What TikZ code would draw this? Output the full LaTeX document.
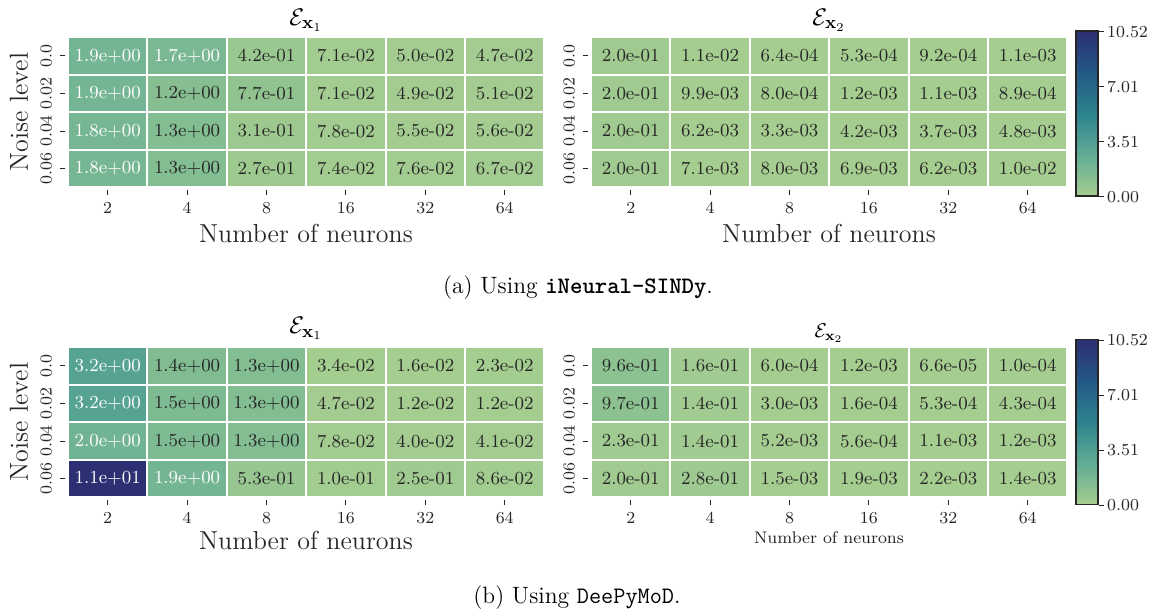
\documentclass[tikz,border=0pt]{standalone}
\usepackage{amsmath}
\usepackage{amsfonts}
\usepackage{tikz}
\usetikzlibrary{positioning}

\definecolor{crest0}{RGB}{165,205,144}
\definecolor{crest1}{RGB}{97,172,148}
\definecolor{crest2}{RGB}{44,131,142}
\definecolor{crest3}{RGB}{36,88,134}
\definecolor{crest4}{RGB}{44,47,114}
\definecolor{axisgray}{RGB}{38,38,38}

\pgfdeclareverticalshading{crestbar}{100bp}{color(0bp)=(crest0); color(25bp)=(crest0); color(37.5bp)=(crest1); color(50bp)=(crest2); color(62.5bp)=(crest3); color(75bp)=(crest4); color(100bp)=(crest4)}

\tikzset{
  heatcell/.style={draw=white, line width=1pt, inner sep=0pt, minimum width=39.7pt, minimum height=18.8pt, font=\fontsize{9.2}{11}\selectfont},
  tickmark/.style={draw=axisgray, line width=0.5pt},
  ticklabel/.style={inner sep=0pt, text=axisgray, font=\fontsize{8.4}{10}\selectfont},
  axislabel/.style={inner sep=0pt, text=axisgray, font=\fontsize{13}{15}\selectfont},
  plottitle/.style={inner sep=0pt, font=\fontsize{13}{15}\selectfont},
  colorbar/.style={shade, shading=crestbar, draw=axisgray, line width=0.7pt, inner sep=0pt, minimum width=11pt, minimum height=82.5pt},
  caption/.style={inner sep=0pt, font=\fontsize{11.8}{14}\selectfont}
}

% 1.9e+00 -> \heatv
\def\heatvalue#1e#2#3#4\relax{%
  \if#2+\pgfmathsetmacro\heatv{#1*10^#4}\else\pgfmathsetmacro\heatv{#1/10^min(#4,4)}\fi}

% colours of one cell, crest map from 0 to 10.52
\newcommand{\setheat}[1]{%
  \expandafter\heatvalue#1\relax
  \pgfmathsetmacro\heatt{4*min(\heatv/10.52,1)}%
  \pgfmathtruncatemacro\heati{min(floor(\heatt),3)}%
  \pgfmathtruncatemacro\heatj{\heati+1}%
  \pgfmathsetmacro\heatp{100*(\heatt-\heati)}%
  \colorlet{heatfill}{crest\heatj!\heatp!crest\heati}%
  \pgfmathtruncatemacro\heatw{\heatv>1.6}%
  \ifnum\heatw=1 \colorlet{heattext}{white}\else\colorlet{heattext}{axisgray}\fi}

% #1 name, #2 left, #3 top, #4 rows
\newcommand{\heatmap}[4]{%
  \foreach \row [count=\r from 0] in {#4} {%
    \foreach \val [count=\c from 0] in \row {%
      \setheat{\val}%
      \node[heatcell, fill=heatfill, text=heattext] (#1-\r-\c) at (#2+39.7+\c*79.4, #3+18.8+\r*37.6) {\val};
    }%
  }%
  \foreach \c/\n in {0/2,1/4,2/8,3/16,4/32,5/64} {%
    \draw[tickmark] ([yshift=-1pt]#1-3-\c.south) -- ++(0,5);
    \node[ticklabel, below=6.8pt of #1-3-\c.south] (#1-xt-\c) {\n};
  }%
  \foreach \r/\n in {0/0.0,1/0.02,2/0.04,3/0.06} {%
    \draw[tickmark] ([xshift=-1pt]#1-\r-0.west) -- ++(-5,0);
    \node[ticklabel, rotate=90, anchor=south] (#1-yt-\r) at ([xshift=-7.3pt]#1-\r-0.west) {\n};
  }%
}

\begin{document}
\begin{tikzpicture}[x=0.5pt, y=-0.5pt]
        \useasboundingbox (0,0) rectangle (1154,615);
        %--------------------------- (a)
        \heatmap{tl}{68}{37}{%
{1.9e+00,1.7e+00,4.2e-01,7.1e-02,5.0e-02,4.7e-02},%
{1.9e+00,1.2e+00,7.7e-01,7.1e-02,4.9e-02,5.1e-02},%
{1.8e+00,1.3e+00,3.1e-01,7.8e-02,5.5e-02,5.6e-02},%
{1.8e+00,1.3e+00,2.7e-01,7.4e-02,7.6e-02,6.7e-02}}
        \heatmap{tr}{591}{37}{%
{2.0e-01,1.1e-02,6.4e-04,5.3e-04,9.2e-04,1.1e-03},%
{2.0e-01,9.9e-03,8.0e-04,1.2e-03,1.1e-03,8.9e-04},%
{2.0e-01,6.2e-03,3.3e-03,4.2e-03,3.7e-03,4.8e-03},%
{2.0e-01,7.1e-03,8.0e-03,6.9e-03,6.2e-03,1.0e-02}}
        \node[plottitle] (tl-title) at (306,20) {$\mathcal{E}_{\mathbf{x}_1}$};
        \node[plottitle] (tr-title) at (829,20) {$\mathcal{E}_{\mathbf{x}_2}$};
        \node[axislabel] (tl-xlab) at (306,233) {Number of neurons};
        \node[axislabel] (tr-xlab) at (829,233) {Number of neurons};
        \node[axislabel, rotate=90] (tl-ylab) at (19,112) {Noise level};
        \node[colorbar] (cb-top) at (1087,113.5) {};
        \foreach \f/\lab [count=\k] in {0/0.00,0.3333/3.51,0.6667/7.01,1/10.52} {
          \draw[tickmark] ([yshift=\f*82.5pt]cb-top.south east) -- ++(5,0)
            node[ticklabel, right=1.5pt] (cb-top-\k) {\lab};
        }
        \node[caption] (cap-a) at (578,288) {(a) Using \textbf{\texttt{iNeural-SINDy}}.};
        %--------------------------- (b)
        \heatmap{bl}{68}{347}{%
{3.2e+00,1.4e+00,1.3e+00,3.4e-02,1.6e-02,2.3e-02},%
{3.2e+00,1.5e+00,1.3e+00,4.7e-02,1.2e-02,1.2e-02},%
{2.0e+00,1.5e+00,1.3e+00,7.8e-02,4.0e-02,4.1e-02},%
{1.1e+01,1.9e+00,5.3e-01,1.0e-01,2.5e-01,8.6e-02}}
        \heatmap{br}{591}{347}{%
{9.6e-01,1.6e-01,6.0e-04,1.2e-03,6.6e-05,1.0e-04},%
{9.7e-01,1.4e-01,3.0e-03,1.6e-04,5.3e-04,4.3e-04},%
{2.3e-01,1.4e-01,5.2e-03,5.6e-04,1.1e-03,1.2e-03},%
{2.0e-01,2.8e-01,1.5e-03,1.9e-03,2.2e-03,1.4e-03}}
        \node[plottitle] (bl-title) at (306,328) {$\mathcal{E}_{\mathbf{x}_1}$};
        \node[plottitle, font=\fontsize{10}{12}\selectfont] (br-title) at (829,333) {$\mathcal{E}_{\mathbf{x}_2}$};
        \node[axislabel] (bl-xlab) at (306,540) {Number of neurons};
        \node[ticklabel] (br-xlab) at (829,538) {Number of neurons};
        \node[axislabel, rotate=90] (bl-ylab) at (19,422) {Noise level};
        \node[colorbar] (cb-bot) at (1087,422) {};
        \foreach \f/\lab [count=\k] in {0/0.00,0.3333/3.51,0.6667/7.01,1/10.52} {
          \draw[tickmark] ([yshift=\f*82.5pt]cb-bot.south east) -- ++(5,0)
            node[ticklabel, right=1.5pt] (cb-bot-\k) {\lab};
        }
        \node[caption] (cap-b) at (577,598) {(b) Using \texttt{DeePyMoD}.};
\end{tikzpicture}
\end{document}
